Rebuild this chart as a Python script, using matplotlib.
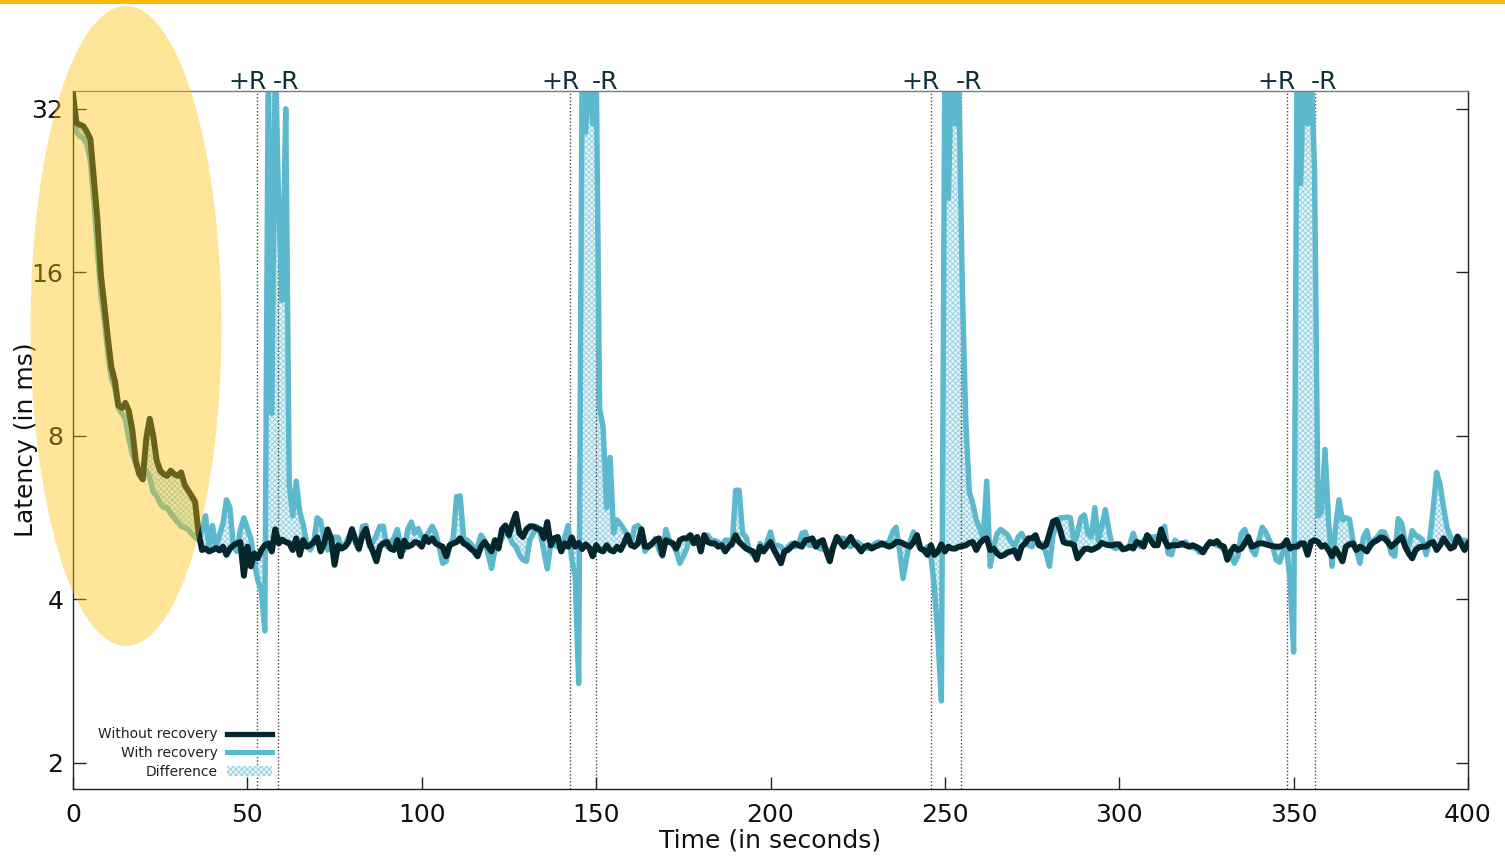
import numpy as np
import matplotlib
matplotlib.use('Agg')
import matplotlib.pyplot as plt
from matplotlib.patches import Ellipse, Rectangle, Patch
from matplotlib.lines import Line2D
from matplotlib.ticker import NullLocator

plt.rcParams['font.family'] = ['DejaVu Sans']
plt.rcParams['hatch.linewidth'] = 0.7

# latency per second (ms)
time_s = np.arange(0, 401)

without_recovery = [
    34.0, 30.1, 29.9, 29.7, 29.0, 28.1, 23.7, 20.0, 15.8, 13.9,
    12.1, 10.7, 10.1, 9.1, 9.0, 9.2, 8.9, 8.2, 7.2, 6.8,
    6.65, 7.9, 8.6, 8.0, 7.2, 6.9, 6.8, 6.75, 6.9, 6.8,
    6.75, 6.85, 6.5, 6.35, 6.2, 6.05, 5.3, 4.93, 4.96, 4.9,
    4.93, 4.97, 4.92, 5.0, 4.83, 4.96, 5.03, 5.07, 5.1, 4.42,
    5.0, 4.6, 4.86, 4.76, 4.93, 5.03, 5.07, 4.9, 5.38, 5.07,
    5.15, 5.1, 5.07, 4.93, 5.18, 4.83, 5.14, 5.0, 5.03, 5.1,
    5.2, 4.9, 5.07, 5.38, 5.18, 4.63, 5.03, 4.96, 5.0, 5.1,
    5.38, 5.15, 4.96, 5.25, 5.39, 5.07, 4.9, 4.7, 5.0, 5.07,
    5.1, 4.96, 4.93, 5.14, 4.8, 5.13, 5.0, 5.03, 5.1, 5.08,
    5.0, 5.21, 5.1, 5.18, 5.07, 5.03, 5.0, 4.8, 5.03, 5.07,
    5.1, 5.18, 5.07, 5.03, 4.96, 4.9, 4.8, 5.0, 5.1, 5.0,
    4.9, 5.14, 4.96, 5.38, 5.47, 5.25, 5.52, 5.75, 5.29, 5.21,
    5.38, 5.45, 5.45, 5.4, 5.38, 5.18, 5.55, 5.03, 5.18, 5.21,
    4.9, 5.07, 5.0, 5.2, 5.0, 5.08, 4.95, 5.05, 4.98, 4.8,
    5.03, 4.93, 4.9, 5.03, 4.93, 4.9, 5.0, 4.93, 5.07, 5.25,
    5.03, 5.0, 5.07, 5.38, 5.0, 5.0, 5.07, 5.14, 5.18, 4.83,
    5.14, 5.1, 5.07, 4.96, 5.14, 5.18, 5.18, 5.25, 5.07, 5.21,
    4.9, 5.25, 5.1, 5.07, 5.07, 5.0, 5.03, 4.9, 5.0, 5.07,
    5.25, 5.1, 5.03, 4.96, 4.93, 4.9, 4.73, 5.0, 4.9, 5.0,
    5.1, 4.93, 4.8, 4.66, 4.9, 4.93, 5.0, 5.07, 5.03, 5.0,
    5.14, 5.15, 5.18, 5.0, 5.1, 5.14, 4.9, 4.7, 5.0, 5.21,
    5.1, 5.0, 5.1, 5.21, 5.07, 5.0, 4.9, 5.0, 5.03, 4.96,
    5.0, 5.03, 5.07, 5.03, 5.0, 5.03, 5.1, 5.1, 5.07, 5.03,
    5.0, 5.1, 5.25, 4.96, 4.93, 4.83, 5.03, 4.83, 4.9, 5.05,
    4.9, 5.0, 4.96, 4.96, 5.0, 5.01, 5.03, 5.08, 5.1, 4.93,
    5.07, 5.15, 5.18, 4.93, 4.96, 4.86, 4.8, 4.83, 4.88, 4.9,
    4.92, 4.76, 5.0, 5.07, 5.18, 5.18, 5.25, 5.03, 5.0, 5.03,
    5.29, 5.56, 5.6, 5.38, 5.1, 5.07, 5.07, 5.03, 4.76, 4.86,
    4.95, 4.96, 4.93, 4.96, 5.0, 5.08, 5.05, 5.03, 5.03, 5.05,
    5.05, 4.95, 4.96, 5.0, 4.96, 5.1, 5.07, 5.0, 5.25, 5.14,
    5.03, 5.03, 5.38, 5.14, 5.0, 5.03, 5.03, 5.03, 5.07, 5.03,
    5.0, 5.03, 5.0, 4.96, 4.88, 5.0, 5.1, 5.07, 5.12, 5.03,
    5.0, 4.73, 4.9, 5.0, 4.93, 4.96, 5.07, 5.21, 5.0, 5.03,
    5.07, 5.07, 5.05, 5.03, 5.01, 5.0, 5.0, 5.03, 5.14, 4.96,
    5.0, 5.0, 5.07, 5.07, 4.83, 5.1, 5.14, 5.1, 5.0, 5.03,
    4.93, 4.8, 4.96, 4.83, 4.7, 5.0, 5.05, 5.07, 4.93, 5.0,
    4.96, 4.9, 5.03, 5.1, 5.14, 5.2, 5.18, 5.1, 5.0, 5.07,
    5.14, 5.21, 5.0, 4.86, 4.76, 4.93, 4.99, 5.0, 5.0, 5.07,
    5.1, 4.93, 5.03, 5.18, 5.07, 4.96, 5.0, 5.22, 5.07, 4.93,
    5.07,
]

with_recovery = [
    34.0, 29.0, 28.5, 28.2, 27.5, 25.5, 21.5, 17.5, 14.5, 13.0,
    11.3, 10.2, 9.8, 9.0, 8.8, 8.6, 7.9, 7.4, 7.1, 6.8,
    6.7, 6.9, 6.7, 6.3, 6.2, 6.0, 5.9, 5.9, 5.75, 5.65,
    5.55, 5.45, 5.42, 5.38, 5.28, 5.2, 5.15, 5.35, 5.7, 5.0,
    5.47, 4.96, 5.25, 5.52, 6.1, 5.9, 5.0, 4.9, 5.38, 5.65,
    5.4, 5.18, 4.66, 4.33, 4.15, 3.5, 40.0, 8.8, 40.0, 21.0,
    14.2, 32.0, 6.5, 5.7, 6.6, 5.8, 5.5, 5.07, 4.93, 5.07,
    5.65, 5.58, 5.18, 4.93, 5.07, 5.21, 5.2, 5.0, 5.03, 5.21,
    5.4, 5.07, 4.93, 5.45, 5.47, 5.0, 5.1, 5.25, 5.45, 5.45,
    5.0, 5.1, 5.18, 5.38, 5.03, 4.93, 5.38, 5.55, 5.29, 5.4,
    5.21, 5.18, 5.32, 5.45, 5.29, 5.0, 4.66, 4.7, 5.0, 5.18,
    6.18, 6.2, 5.18, 5.14, 5.07, 4.96, 5.0, 5.25, 5.14, 4.86,
    4.56, 4.93, 5.03, 5.18, 5.4, 5.25, 5.07, 5.0, 4.83, 4.73,
    4.7, 5.14, 5.29, 5.45, 5.29, 4.9, 4.55, 5.07, 5.03, 5.0,
    4.93, 5.21, 5.47, 4.75, 4.4, 2.8, 40.0, 29.0, 40.0, 30.0,
    40.0, 9.0, 8.3, 5.9, 7.3, 5.3, 5.6, 5.5, 5.38, 5.25,
    5.07, 5.43, 5.47, 5.38, 4.9, 5.0, 5.03, 5.18, 4.93, 4.8,
    5.38, 5.14, 5.03, 4.9, 4.66, 4.8, 4.96, 5.25, 5.2, 5.18,
    5.0, 5.21, 5.25, 5.14, 5.13, 5.1, 5.0, 5.14, 5.14, 5.03,
    6.35, 6.35, 5.29, 5.21, 4.9, 4.83, 4.8, 5.07, 4.93, 5.1,
    5.32, 5.0, 5.03, 5.0, 4.9, 5.0, 5.07, 5.0, 5.03, 5.29,
    5.32, 5.03, 5.03, 5.1, 4.96, 4.95, 4.93, 4.9, 5.0, 5.18,
    5.18, 5.18, 5.03, 5.0, 5.07, 5.1, 5.03, 5.0, 4.96, 5.0,
    5.07, 5.1, 5.03, 5.07, 5.1, 5.32, 5.43, 4.93, 4.37, 4.76,
    5.1, 5.32, 5.07, 4.96, 4.9, 5.0, 4.8, 4.2, 3.4, 2.6,
    40.0, 21.9, 40.0, 30.0, 36.0, 15.0, 8.5, 6.3, 6.0, 5.6,
    5.4, 5.2, 6.6, 4.6, 5.0, 5.29, 5.38, 5.32, 5.25, 5.1,
    5.0, 5.21, 5.29, 5.14, 5.03, 5.0, 5.15, 5.03, 5.07, 4.86,
    4.6, 5.25, 5.5, 5.65, 5.65, 5.67, 5.65, 5.07, 5.29, 5.65,
    5.72, 5.29, 5.21, 5.9, 5.14, 5.45, 5.85, 5.38, 5.0, 4.96,
    5.0, 4.93, 4.96, 5.03, 5.29, 5.07, 5.0, 5.14, 5.2, 5.21,
    5.21, 5.22, 5.29, 5.45, 4.86, 4.83, 5.14, 5.07, 5.03, 5.1,
    5.01, 4.98, 4.96, 4.88, 4.93, 5.0, 5.08, 5.07, 5.03, 5.0,
    4.93, 4.86, 4.86, 4.66, 4.8, 5.29, 5.38, 5.14, 4.93, 4.83,
    5.14, 5.43, 5.32, 5.14, 5.0, 4.73, 4.68, 4.9, 5.0, 4.3,
    3.2, 40.0, 23.3, 40.0, 30.0, 38.0, 24.5, 5.7, 5.8, 7.55,
    5.6, 4.6, 5.4, 6.1, 5.6, 5.65, 5.62, 5.14, 4.93, 4.66,
    5.2, 5.35, 5.0, 5.14, 5.21, 5.32, 5.32, 5.14, 4.86, 4.8,
    5.63, 5.52, 5.07, 5.0, 5.35, 5.25, 5.21, 5.14, 4.83, 5.14,
    5.85, 6.85, 6.5, 5.9, 5.42, 5.21, 5.1, 5.21, 5.14, 5.14,
    5.1,
]

# moments where recovery was switched on (+R) and off (-R)
recovery_on = [52.8, 142.6, 246.0, 348.1]
recovery_off = [58.8, 150.0, 254.6, 356.2]

x_ticks = [0, 50, 100, 150, 200, 250, 300, 350, 400]
y_ticks = [2, 4, 8, 16, 32]

assert len(without_recovery) == len(time_s) == len(with_recovery)

DARK = '#04262c'
BLUE = '#5cb8cc'
FILL_FACE = '#e9f6f9'
FILL_HATCH = '#97d2e0'

fig = plt.figure(figsize=(15.05, 8.56), dpi=100)
ax = fig.add_axes([73 / 1505, 67 / 856, 1395 / 1505, 698 / 856])

ax.fill_between(time_s, without_recovery, with_recovery,
                facecolor=FILL_FACE, edgecolor=FILL_HATCH, hatch='xxxxxx',
                linewidth=0, zorder=1)
for t in recovery_on + recovery_off:
    ax.axvline(t, color='#444444', linestyle=(0, (1, 1.5)), linewidth=1.0, zorder=1.5)
ax.plot(time_s, with_recovery, color=BLUE, linewidth=3.9, zorder=2)
ax.plot(time_s, without_recovery, color=DARK, linewidth=4.3, zorder=3)

for t in recovery_on:
    ax.annotate('+R', xy=(t, 1.0), xycoords=('data', 'axes fraction'),
                xytext=(6.5, 1.5), textcoords='offset points',
                ha='right', va='baseline', fontsize=18, color='#0f3038')
for t in recovery_off:
    ax.annotate('-R', xy=(t, 1.0), xycoords=('data', 'axes fraction'),
                xytext=(-3.5, 1.5), textcoords='offset points',
                ha='left', va='baseline', fontsize=18, color='#0f3038')

ax.set_yscale('log', base=2)
ax.set_ylim(1.79, 34.5)
ax.set_xlim(0, 400)
ax.set_yticks(y_ticks)
ax.set_yticklabels([str(v) for v in y_ticks])
ax.yaxis.set_minor_locator(NullLocator())
ax.set_xticks(x_ticks)
ax.set_xticklabels([str(v) for v in x_ticks])

ax.tick_params(axis='both', direction='in', length=9, width=1,
               labelsize=18, colors='#222222', labelcolor='#111111')
ax.tick_params(axis='y', right=True, pad=7)
ax.tick_params(axis='x', top=False, pad=10)

for side in ['left', 'bottom', 'right']:
    ax.spines[side].set_color('#222222')
    ax.spines[side].set_linewidth(1.0)
ax.spines['top'].set_color('#7a7a7a')
ax.spines['top'].set_linewidth(1.0)

ax.set_xlabel('Time (in seconds)', fontsize=18, color='#111111', labelpad=1)
ax.set_ylabel('Latency (in ms)', fontsize=18, color='#111111')
ax.yaxis.set_label_coords(-0.025, 0.5)

handles = [
    Line2D([], [], color=DARK, linewidth=3.8),
    Line2D([], [], color=BLUE, linewidth=3.6),
    Patch(facecolor=FILL_FACE, edgecolor=FILL_HATCH, hatch='xxxxxx', linewidth=0),
]
ax.legend(handles, ['Without recovery', 'With recovery', 'Difference'],
          loc='lower left', bbox_to_anchor=(0.018, 0.015), borderaxespad=0,
          borderpad=0, frameon=False, markerfirst=False, fontsize=10,
          handlelength=3.25, handletextpad=0.65, labelspacing=0.33,
          labelcolor='#222222')

# highlight of the warm-up phase and the accent bar on top
fig.add_artist(Ellipse((126 / 1505, 1 - 326 / 856), 191 / 1505, 640 / 856,
                       transform=fig.transFigure, facecolor='#ffc000',
                       edgecolor='none', alpha=0.4, zorder=5))
fig.add_artist(Rectangle((0, 1 - 4 / 856), 1, 4 / 856, transform=fig.transFigure,
                         facecolor='#f8bc0c', edgecolor='none', zorder=5))

fig.savefig('out.png', dpi=100)
